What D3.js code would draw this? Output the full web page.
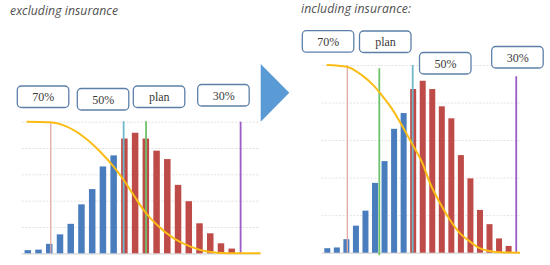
<!DOCTYPE html>
<html>
<head>
<meta charset="utf-8">
<script src="https://cdn.jsdelivr.net/npm/d3@7"></script>
<style>
  body { margin: 0; background: #fff; }
  svg { display: block; }
</style>
</head>
<body>
<script>

// loss distribution, 20 buckets (same histogram in both panels)
var buckets = d3.range(20);
var counts = [0.6, 0.7, 1.8, 3.6, 5.6, 9.3, 12.2, 16.5, 18.6, 21.8,
              22.9, 21.8, 19.5, 17.9, 13.0, 9.9, 5.7, 3.8, 1.9, 0.9];
var splitAt = 9; // first red bucket

// exceedance curve, x in bucket units, y in percent
var curveLeftX = [-0.1, 2.07, 3.63, 5.19, 6.75, 8.0, 8.93, 9.86, 10.79, 12.05, 13.6, 15.16, 16.72, 18.6, 21.7];
var curveLeftY = [100, 99.5, 96.2, 88.6, 77.2, 65.8, 55.7, 44.3, 32.9, 21.5, 11.4, 5.1, 1.3, 0, 0];
var curveRightX = [-0.06, 2.03, 3.61, 4.82, 5.7, 6.75, 7.8, 8.85, 9.9, 10.77, 11.82, 12.86, 13.91, 14.96, 16.0, 17.05, 18.1, 20.2];
var curveRightY = [100, 99.1, 94.6, 89.3, 84.0, 76.9, 68.0, 58.3, 48.5, 37.0, 26.3, 17.4, 10.3, 5.9, 2.3, 0.9, 0.2, 0];

// marker lines: position in bucket units, top in count units
var markerNames = ["70%", "50%", "plan", "30%"];
var markerLeftX = [2.14, 8.93, 11.02, 19.83];
var markerLeftTop = [25, 25.1, 25.1, 25];
var markerRightX = [2.1, 8.95, 5.45, 19.8];
var markerRightTop = [25, 25, 24.56, 23.5];

var yTicks = [0, 5, 10, 15, 20, 25];

var colors = {
  blue: "#4a7dbd", red: "#be4b48", curve: "#fbbd14",
  "70%": "#e3a9a5", "50%": "#6fb8cc", "plan": "#6cc26c", "30%": "#9a5cc6"
};

var svg = d3.select("body").append("svg")
  .attr("width", 550)
  .attr("height", 265);

// panel layout
var panels = [
  {
    title: "excluding insurance", tx: 10, ty: 15, tw: 108,
    x0: 27.8, x1: 231.7, top: 121.7, base: 253.3, gx0: 21.7, gx1: 260, bw: 6.5,
    cx: curveLeftX, cy: curveLeftY, mx: markerLeftX, mt: markerLeftTop, greenDown: 0,
    boxes: { "70%": [17.3, 86], "50%": [77.3, 88.5], "plan": [133.3, 86], "30%": [197.7, 84.5] }
  },
  {
    title: "including insurance:", tx: 301, ty: 13, tw: 110,
    x0: 327.3, x1: 508.6, top: 65, base: 252.7, gx0: 321.7, gx1: 520, bw: 6,
    cx: curveRightX, cy: curveRightY, mx: markerRightX, mt: markerRightTop, greenDown: 2.5,
    boxes: { "70%": [302.3, 30.7], "plan": [359.5, 31], "50%": [419.5, 52.5], "30%": [491.7, 46.5] }
  }
];

panels.forEach(drawPanel);

// arrow between the two panels
svg.append("path")
  .attr("d", "M260.7,64 L289.3,92.7 L260.7,121.7 Z")
  .attr("fill", "#5b9bd5");

function drawPanel(p) {
  var g = svg.append("g");

  var x = d3.scaleLinear().domain([0, 19]).range([p.x0, p.x1]);
  var y = d3.scaleLinear().domain([0, 25]).range([p.base, p.top]);
  var yPct = d3.scaleLinear().domain([0, 100]).range([p.base, p.top]);

  g.append("text")
    .attr("x", p.tx).attr("y", p.ty)
    .attr("font-family", "Open Sans, sans-serif")
    .attr("font-style", "italic")
    .attr("font-size", 12.2)
    .attr("fill", "#505050")
    .attr("textLength", p.tw)
    .text(p.title);

  // dotted gridlines
  var grid = g.append("g")
    .attr("transform", "translate(" + p.gx0 + ",0)")
    .call(d3.axisLeft(y).tickValues(yTicks).tickSize(-(p.gx1 - p.gx0)).tickFormat(""));
  grid.select(".domain").remove();
  grid.selectAll(".tick line")
    .attr("stroke-dasharray", function (d) { return d === 0 ? null : "2,1.5"; })
    .attr("stroke", function (d) { return d === 0 ? "#d6d6d6" : "#e2e2e2"; })
    .attr("stroke-width", function (d) { return d === 0 ? 1.2 : 1; });

  g.selectAll("rect.bar")
    .data(buckets)
    .enter()
    .append("rect")
    .attr("class", "bar")
    .attr("x", function (i) { return x(i) - p.bw / 2; })
    .attr("y", function (i) { return y(counts[i]); })
    .attr("width", p.bw)
    .attr("height", function (i) { return y(0) - y(counts[i]); })
    .attr("fill", function (i) { return i < splitAt ? colors.blue : colors.red; });

  // marker lines
  markerNames.forEach(function (name, k) {
    g.append("line")
      .attr("x1", x(p.mx[k])).attr("x2", x(p.mx[k]))
      .attr("y1", y(p.mt[k]))
      .attr("y2", y(0) + (name === "plan" ? p.greenDown : 0))
      .attr("stroke", colors[name])
      .attr("stroke-width", name === "70%" ? 1.3 : 1.8);
  });

  // exceedance curve
  var line = d3.line()
    .x(function (d) { return x(d[0]); })
    .y(function (d) { return yPct(d[1]); })
    .curve(d3.curveMonotoneX);

  g.append("path")
    .datum(d3.zip(p.cx, p.cy))
    .attr("d", line)
    .attr("fill", "none")
    .attr("stroke", colors.curve)
    .attr("stroke-width", 2);

  // label boxes
  markerNames.forEach(function (name) {
    var b = p.boxes[name];
    g.append("rect")
      .attr("x", b[0]).attr("y", b[1])
      .attr("width", 51.5).attr("height", 21.5)
      .attr("rx", 4)
      .attr("fill", "#fff")
      .attr("stroke", "#5c80a8")
      .attr("stroke-width", 1.3);
    g.append("text")
      .attr("x", b[0] + 26).attr("y", b[1] + 15)
      .attr("text-anchor", "middle")
      .attr("font-family", "Liberation Serif, serif")
      .attr("font-size", 12)
      .attr("fill", "#3a3a3a")
      .text(name);
  });
}
</script>
</body>
</html>
